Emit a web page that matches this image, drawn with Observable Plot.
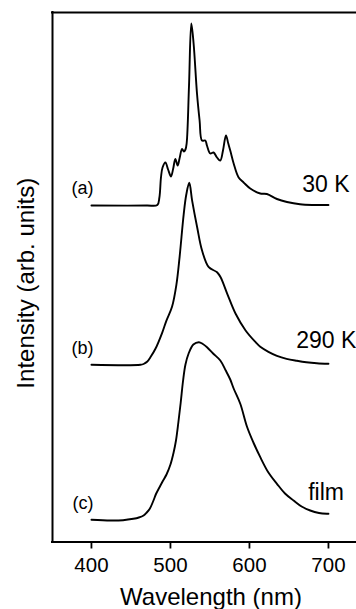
<!DOCTYPE html>
<html><head><meta charset="utf-8">
<script src="https://cdn.jsdelivr.net/npm/d3@7"></script>
<script src="https://cdn.jsdelivr.net/npm/@observablehq/plot@0.6"></script>
<style>html,body{margin:0;padding:0;background:#fff}svg{display:block}</style>
</head><body><div id="chart"></div>
<script>
// Series identifiers and tags
const seriesNames = ["(a)", "(b)", "(c)"];
const seriesTags = ["30 K", "290 K", "film"];
// vertical offsets of each spectrum (arb. units)
const offsets = [336.5, 177.2, 21.5];

// (a) 30 K
const wlA = [400, 470, 483.4, 486, 488, 490, 493.6, 497, 500.7, 503.5, 506.2, 509.1, 511.5, 514.7, 517, 519, 520.5, 523.5, 526.4, 529.3, 533.6, 536.9, 539.9, 544.1, 546.2, 550.4, 554.6, 558.9, 563.1, 566.5, 570.3, 573.2, 575.7, 580, 586.3, 592.6, 601, 613.7, 622, 634.8, 647.5, 664, 680, 700];
const intA = [0, 0, 0.5, 8, 28, 38, 43, 36, 29, 37, 46.5, 40, 47, 56.5, 54, 56, 62, 120, 182, 162, 112, 85, 65, 65, 60, 52, 53, 48, 45, 55, 70, 62, 55, 42, 28, 23, 17, 12, 11.5, 6.5, 3.5, 1.2, 0.5, 0.5];

// (b) 290 K
const wlB = [400, 462, 466, 470.4, 475, 481, 489.5, 494.8, 502, 507.5, 511.6, 516.7, 520, 523.8, 527.5, 533.8, 540, 548.5, 559, 563.5, 571.9, 582.5, 595.1, 607.8, 613.7, 624, 634.8, 647, 660, 672, 685.3, 700];
const intB = [0, 0, 0.8, 3, 8, 16, 32, 44, 58, 80, 108, 150, 170, 182, 164, 137.6, 114.3, 97.6, 92.6, 87.6, 71, 51, 34.3, 22.6, 18, 13, 9, 6, 4, 2.5, 1.5, 1];

// (c) film
const wlC = [400, 424, 440, 453, 460, 466, 470, 474, 478, 482, 486, 490, 495, 500, 504, 507, 510, 513, 516, 519, 523, 529, 536, 541, 546.3, 554, 563.1, 570, 575.7, 580, 588.4, 596.8, 605, 613.7, 624, 634.8, 645, 655.8, 666, 676.9, 688, 698, 700];
const intC = [0.7, 0, 0.3, 1.7, 3, 5, 8, 12, 19, 27, 33, 39, 46, 56, 68, 80, 98, 118, 140, 156, 167, 176, 178.3, 176.5, 173.3, 167, 160, 150, 141, 132, 116.7, 94, 78, 63.3, 48, 36.7, 27, 20, 14, 10, 7.5, 6.7, 6.7];

const xTicks = [400, 500, 600, 700];
const xTitle = "Wavelength (nm)";
const yTitle = "Intensity (arb. units)";

const wls = [wlA, wlB, wlC];
const ints = [intA, intB, intC];
const rows = [];
wls.forEach((wl, s) => wl.forEach((w, i) => rows.push({series: seriesNames[s], wl: w, value: ints[s][i] + offsets[s]})));
const leftLabels = seriesNames.map((n, s) => ({name: n, wl: wls[s][0], y: offsets[s]}));
const rightLabels = seriesTags.map((n, s) => ({name: n, wl: wls[s][wls[s].length - 1], y: offsets[s]}));

// label placement (pixels) for right-hand tags
const tagShift = [[-26.3, -20.4], [-32.3, -23.7], [-20.3, -27.4]];

const xMin = 350.7, xMax = 735.5, yTop = 529.5;

const marks = [
  Plot.ruleY([0], {stroke: "#000", strokeWidth: 2, strokeLinecap: "square"}),
  Plot.ruleY([yTop], {stroke: "#000", strokeWidth: 2, strokeLinecap: "square"}),
  Plot.ruleX([xMin], {stroke: "#000", strokeWidth: 2, strokeLinecap: "square"}),
  Plot.axisX({ticks: xTicks, tickSize: 7, tickPadding: 8, fontSize: 20.5, label: null, strokeWidth: 1.8}),
  Plot.line(rows, {x: "wl", y: "value", z: "series", stroke: "#000", strokeWidth: 1.9, curve: "catmull-rom"}),
  Plot.text(leftLabels, {x: "wl", y: "y", text: "name", textAnchor: "end", dx: 2, dy: -17, fontSize: 18}),
  ...rightLabels.map((d, s) => Plot.text([d], {x: "wl", y: "y", text: "name", textAnchor: "start", dx: tagShift[s][0], dy: tagShift[s][1], fontSize: 23})),
  Plot.text([xTitle], {frameAnchor: "bottom", text: d => d, textAnchor: "middle", lineAnchor: "top", dx: 6.5, dy: 46, fontSize: 24}),
  Plot.text([yTitle], {frameAnchor: "left", text: d => d, textAnchor: "middle", rotate: -90, dx: -25.7, dy: 6, fontSize: 24})
];

const chart = Plot.plot({
  width: 356, height: 609,
  marginLeft: 52, marginRight: 0, marginTop: 12, marginBottom: 67.5,
  x: {domain: [xMin, xMax], axis: null},
  y: {domain: [0, yTop], axis: null},
  style: {fontFamily: "'Liberation Sans', Arial, Helvetica, sans-serif", color: "#000", background: "#fff", overflow: "visible"},
  marks
});
document.getElementById("chart").appendChild(chart);
</script>
</body></html>
